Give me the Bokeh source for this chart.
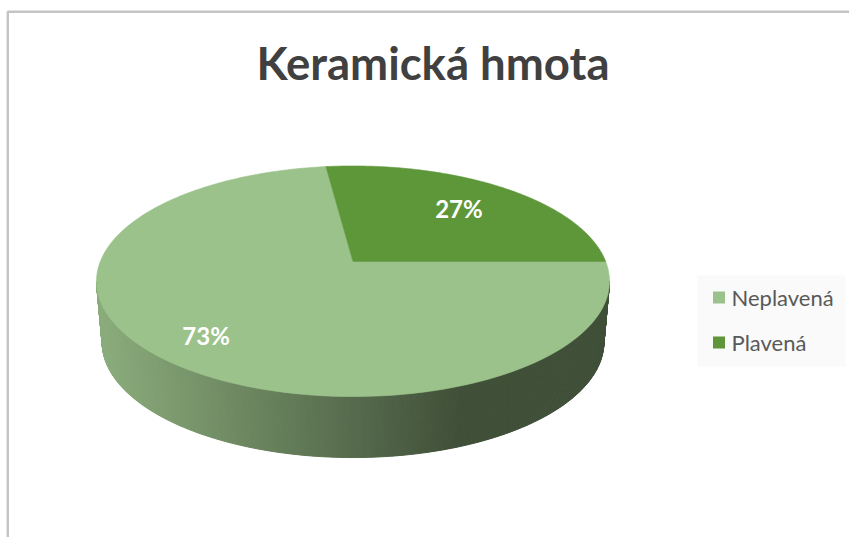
import numpy as np
from bokeh.plotting import figure
from bokeh.models import Range1d, ColumnDataSource
from bokeh.core.properties import value
from bokeh.embed import file_html
from bokeh.resources import INLINE

# ---- data ----
title_text = "Keramická hmota"
categories = ["Neplavená", "Plavená"]
values = [73, 27]
colors = ["#9cc28b", "#5e9739"]

# ---- styles / layout ----
FONT = "Lato"
LABEL_R = {"Neplavená": 0.79, "Plavená": 0.69}
W, H = 849, 537
X0, Y0, A, B, K = 352.5, 261.0, 252.7, 111.9, 0.1714   # perspective ellipse
DEPTH, SHRINK = 61.0, 0.978

p = figure(width=W, height=H, x_range=Range1d(0, W), y_range=Range1d(H, 0),
           output_backend="svg", toolbar_location=None, min_border=0,
           x_axis_location=None, y_axis_location=None)
p.grid.visible = False
p.outline_line_color = None
p.background_fill_color = "white"
p.border_fill_color = "white"


def top(t, r=1.0):
    u, v = r * np.cos(t), r * np.sin(t)
    w = 1 + K * v
    return X0 + A * u / w, Y0 - B * v / w


def bottom(t):
    x, y = top(t)
    return X0 + (x - X0) * SHRINK, y + DEPTH


def hex2rgb(h):
    h = h.lstrip("#")
    return np.array([int(h[i:i + 2], 16) for i in (0, 2, 4)], dtype=float)


def shade(col, x):
    t = np.clip((x - (X0 - 252)) / ((X0 + 108) - (X0 - 252)), 0, 1)
    f = 0.89 + (0.41 - 0.89) * t
    c = np.clip(hex2rgb(col) * f, 0, 255).astype(int)
    return "#%02x%02x%02x" % tuple(c)


total = float(sum(values))
thL, thR = np.pi + np.arcsin(K), 2 * np.pi - np.arcsin(K)

top_xs, top_ys, top_cols = [], [], []
side_xs, side_ys, side_cols = [], [], []
lab_x, lab_y, lab_t = [], [], []

start = 0.0
for cat, val, col in zip(categories, values, colors):
    sweep = 2 * np.pi * val / total
    t1, t2 = start, start - sweep
    ts = np.linspace(t1, t2, 200)
    x, y = top(ts)
    top_xs.append([X0] + list(x))
    top_ys.append([Y0] + list(y))
    top_cols.append(col)
    # visible side
    for sh in (-2 * np.pi, 0.0, 2 * np.pi):
        lo, hi = max(t2, thL + sh), min(t1, thR + sh)
        if lo < hi:
            n = max(2, int((hi - lo) / (2 * np.pi) * 600))
            tt = np.linspace(lo, hi, n + 1)
            for a0, a1 in zip(tt[:-1], tt[1:]):
                xa, ya = top(np.array([a0, a1]))
                xb, yb = bottom(np.array([a0, a1]))
                side_xs.append([xa[0], xa[1], xb[1], xb[0]])
                side_ys.append([ya[0], ya[1], yb[1], yb[0]])
                side_cols.append(shade(col, (xa[0] + xa[1]) / 2))
    mid = (t1 + t2) / 2
    lx, ly = top(mid, LABEL_R[cat])
    lab_x.append(lx)
    lab_y.append(ly)
    lab_t.append("%d%%" % round(100 * val / total))
    start = t2

p.patches(xs="xs", ys="ys", source=ColumnDataSource(dict(xs=side_xs, ys=side_ys, c=side_cols)),
          fill_color="c", line_color="c", line_width=1)
p.patches(xs="xs", ys="ys", source=ColumnDataSource(dict(xs=top_xs, ys=top_ys, c=top_cols)),
          fill_color="c", line_color="c", line_width=0.6)

p.text(x=lab_x, y=lab_y, text=lab_t, text_color="white", text_font=value(FONT),
       text_font_style="bold", text_font_size="24px", text_align="center", text_baseline="middle")

# title
p.text(x=[432.5], y=[62], text=[title_text], text_color="#404040", text_font=value(FONT),
       text_font_style="bold", text_font_size="45.5px", text_align="center", text_baseline="middle")

# legend
p.quad(left=[697], right=[845], top=[275], bottom=[366], fill_color="#fafafa", line_color=None)
ly = [297 + 45 * i for i in range(len(categories))]
p.scatter(x=[718.5] * len(categories), y=ly, marker="square", size=12, fill_color=colors, line_color=None)
p.text(x=[731] * len(categories), y=ly, text=categories, text_color="#595959", text_font=value(FONT),
       text_font_size="22px", text_align="left", text_baseline="middle")

# frame border (top and left visible)
p.line(x=[7.3, 7.3, 849], y=[537, 11.3, 11.3], line_color="#c4c4c4", line_width=2.4)

open("out.html", "w").write(file_html(p, INLINE))
